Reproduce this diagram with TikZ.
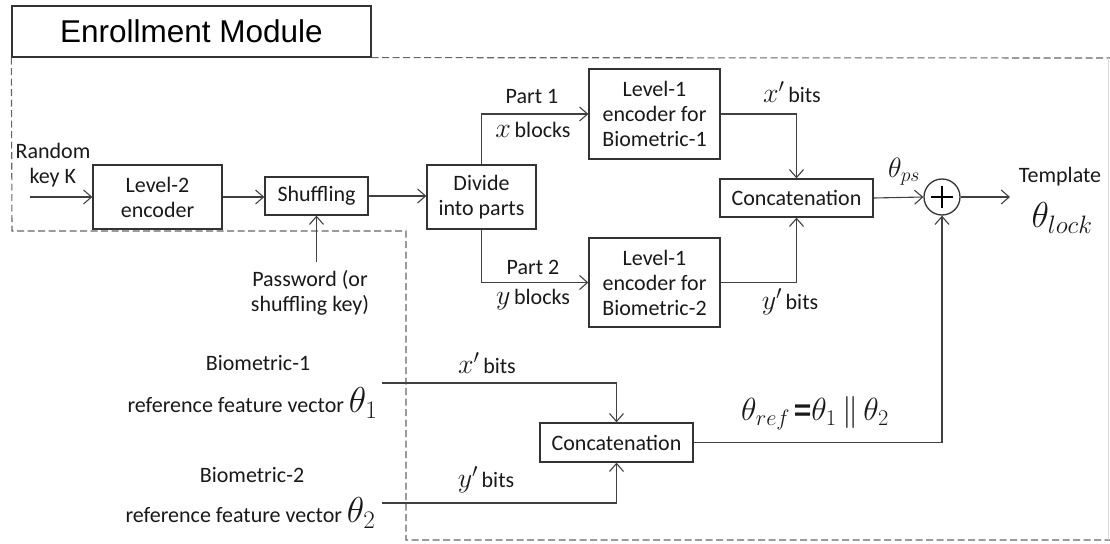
\RequirePackage{fix-cm}
\documentclass[tikz,border=0pt]{standalone}
\usepackage{fontspec}
\setmainfont{Carlito}
\newfontfamily\arialf{Liberation Sans}
\usetikzlibrary{arrows.meta}
\begin{document}
\begin{tikzpicture}[x=1pt,y=-1pt,
  line width=1.1pt,
  >={Straight Barb[length=8pt,width=14pt,line width=1.1pt]},
  blk/.style={draw=black!80, line width=1.3pt, inner sep=0pt, align=center,
    font=\fontsize{22}{25}\selectfont, text=black!90},
  lbl/.style={inner sep=0pt, align=center, font=\fontsize{22}{25}\selectfont, text=black!90},
  conn/.style={draw=black!75, ->},
  bnd/.style={draw=black!60, dash pattern=on 7pt off 3.5pt, line width=1.1pt},
  mth/.style={inner sep=0pt, text=black!90, font=\fontsize{28}{28}\selectfont},
  bigm/.style={inner sep=0pt, text=black!90, font=\fontsize{36}{36}\selectfont}]
\useasboundingbox (0,0) rectangle (1110,543);

% title box
\node[draw=black!80, line width=1.3pt, minimum width=359pt, minimum height=51pt, inner sep=0pt,
  font=\arialf\fontsize{31.5}{32}\selectfont, text=black] (title) at (191.5,31.5) {Enrollment Module};

% boundary
\draw[bnd] (title.south east) -- (1110,58);
\draw[bnd] (title.south west) -- (12,231) -- (406,231) -- (406,540) -- (1110,540);
\draw[draw=black!15, line width=1pt] (1108.5,58) -- (1108.5,540);

% blocks
\node[blk, minimum width=129pt, minimum height=64pt] (l2) at (157.5,197) {Level-2\\encoder};
\node[blk, minimum width=103pt, minimum height=38pt] (sh) at (316.5,196) {Shuffling};
\node[blk, minimum width=109pt, minimum height=64pt] (dv) at (481.5,197) {Divide\\into parts};
\node[blk, minimum width=131pt, minimum height=90pt] (e1) at (654.5,114) {Level-1\\encoder for\\Biometric-1};
\node[blk, minimum width=131pt, minimum height=89pt] (e2) at (654.5,282.5) {Level-1\\encoder for\\Biometric-2};
\node[blk, minimum width=153pt, minimum height=38pt] (c1) at (796.5,198) {Concatenation};
\node[blk, minimum width=153pt, minimum height=39pt] (c2) at (616.5,442.5) {Concatenation};
\node[draw=black!80, line width=1.3pt, circle, minimum size=36pt, inner sep=0pt] (xo) at (942,197) {};
\draw[line width=2.8pt, black] (xo.center) ++(-11,0) -- ++(22,0);
\draw[line width=2.8pt, black] (xo.center) ++(0,-11) -- ++(0,22);

% free ends
\coordinate (rk) at (30,197);
\coordinate (pw) at (316.5,262);
\coordinate (out) at (1010,197);
\coordinate (t1) at (382,383);
\coordinate (t2) at (382,503);

% connectors
\draw[conn] (rk) -- (l2.west);
\draw[conn] (l2.east) -- (l2.east -| sh.west);
\draw[conn] (sh.east) -- (sh.east -| dv.west);
\draw[conn] (dv.north) |- (e1.west);
\draw[conn] (dv.south) |- (e2.west);
\draw[conn] (e1.east) -| (c1.north);
\draw[conn] (e2.east) -| (c1.south);
\draw[conn] (c1.east) -- (xo.west);
\draw[conn] (xo.east) -- (out);
\draw[conn] (pw) -- (sh.south);
\draw[conn] (t1) -| (c2.north);
\draw[conn] (t2) -| (c2.south);
\draw[conn] (c2.east) -| (xo.south);

% labels
\node[lbl, align=left] (rkl) at (53,165) {Random\\\hspace*{14pt}key {\rmfamily K}};
\node[lbl] (pwl) at (310,293) {Password (or\\shuffling key)};
\node[lbl] (p1) at (532,97) {Part 1};
\node[lbl] (xb) at (533,130) {{\fontsize{28}{28}\selectfont$x$}\,blocks};
\node[lbl] (p2) at (533,267) {Part 2};
\node[lbl] (yb) at (533,300) {{\fontsize{28}{28}\selectfont$y$}\,blocks};
\node[lbl] (xbt) at (792,92) {{\fontsize{28}{28}\selectfont$x'$}\,bits};
\node[lbl] (ybt) at (790,302) {{\fontsize{28}{28}\selectfont$y'$}\,bits};
\node[mth] (tps) at (904,172) {$\theta_{ps}$};
\node[lbl] (tpl) at (1060,177) {Template};
\node[bigm] (tlk) at (1062,218) {$\theta_{lock}$};
\node[lbl] (b1) at (258,363) {Biometric-1};
\node[lbl, anchor=east] (rf1) at (378,403) {reference feature vector {\fontsize{36}{36}\selectfont$\theta_1$}};
\node[lbl] (b2) at (252,475) {Biometric-2};
\node[lbl, anchor=east] (rf2) at (376,513) {reference feature vector {\fontsize{36}{36}\selectfont$\theta_2$}};
\node[lbl] (xbb) at (487,363) {{\fontsize{28}{28}\selectfont$x'$}\,bits};
\node[lbl] (ybb) at (486,480) {{\fontsize{28}{28}\selectfont$y'$}\,bits};
\node[lbl] (trf) at (815,413) {{\fontsize{32}{32}\selectfont$\theta_{ref}$}\,{\arialf\bfseries\fontsize{30}{30}\selectfont=}{\fontsize{32}{32}\selectfont$\theta_1\,\Vert\,\theta_2$}};
\end{tikzpicture}
\end{document}
